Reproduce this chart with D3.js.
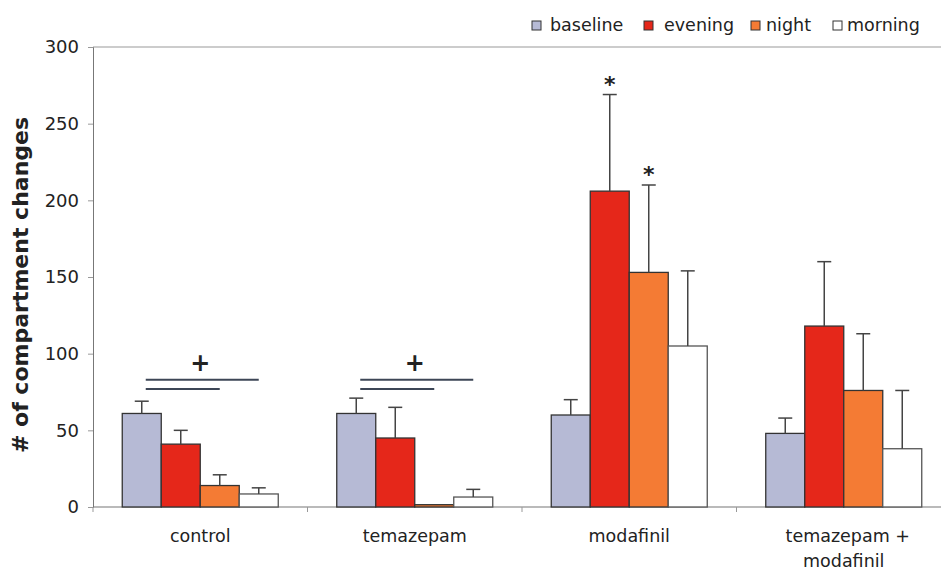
<!DOCTYPE html>
<html>
<head>
<meta charset="utf-8">
<script src="https://cdn.jsdelivr.net/npm/d3@7"></script>
<style>
  body { margin: 0; background: #fff; }
  text { font-family: "DejaVu Sans", Arial, sans-serif; fill: #222; }
</style>
</head>
<body>
<div id="chart"></div>
<script>
// data
const groups = ['control', 'temazepam', 'modafinil', 'temazepam + modafinil'];
const seriesNames = ['baseline', 'evening', 'night', 'morning'];
const baseline = [61, 61, 60, 48];
const evening = [41, 45, 206, 118];
const night = [14, 1.5, 153, 76];
const morning = [8.5, 6.5, 105, 38];
const baselineErr = [8, 10, 10, 10];
const eveningErr = [9, 20, 63, 42];
const nightErr = [7, 0, 57, 37];
const morningErr = [4, 5, 49, 38];
const yTicks = [0, 50, 100, 150, 200, 250, 300];
// significance marks
const brackets = [
  { group: 'control', to: 'morning', level: 83 },
  { group: 'control', to: 'night', level: 77 },
  { group: 'temazepam', to: 'morning', level: 83 },
  { group: 'temazepam', to: 'night', level: 77 }
];
const plusMarks = [{ group: 'control', level: 94 }, { group: 'temazepam', level: 94 }];
const stars = [{ group: 'modafinil', series: 'evening' }, { group: 'modafinil', series: 'night' }];

const values = { baseline, evening, night, morning };
const errors = { baseline: baselineErr, evening: eveningErr, night: nightErr, morning: morningErr };
const colors = { baseline: '#b6bad5', evening: '#e5271a', night: '#f47b34', morning: '#ffffff' };

const W = 941, H = 571;
const svg = d3.select('#chart').append('svg')
  .attr('width', W)
  .attr('height', H);

const plotLeft = 93, plotTop = 47, plotBottom = 507;
const x0 = d3.scaleBand().domain(groups).range([plotLeft, plotLeft + 4 * 214.5]).padding(0);
const x1 = d3.scaleBand().domain(seriesNames).range([0, x0.bandwidth()]).paddingInner(0).paddingOuter(0.75);
const y = d3.scaleLinear().domain([0, 300]).range([plotBottom, plotTop]);

// frame: top line
svg.append('line')
  .attr('x1', plotLeft).attr('x2', W)
  .attr('y1', plotTop).attr('y2', plotTop)
  .attr('stroke', '#999').attr('stroke-width', 1);

// y axis
const yAxis = svg.append('g')
  .attr('transform', `translate(${plotLeft},0)`)
  .call(d3.axisLeft(y).tickValues(yTicks).tickSize(5).tickPadding(9));
yAxis.select('.domain').attr('stroke', '#777');
yAxis.selectAll('.tick line').attr('stroke', '#999');
yAxis.selectAll('.tick text')
  .attr('font-size', 18)
  .attr('font-family', '"DejaVu Sans", Arial, sans-serif')
  .attr('fill', '#333');

// x axis line + group ticks
svg.append('line')
  .attr('x1', plotLeft).attr('x2', W)
  .attr('y1', plotBottom).attr('y2', plotBottom)
  .attr('stroke', '#777').attr('stroke-width', 1.2);
svg.selectAll('.gtick')
  .data(groups)
  .join('line')
  .attr('class', 'gtick')
  .attr('x1', d => x0(d)).attr('x2', d => x0(d))
  .attr('y1', plotBottom).attr('y2', plotBottom + 5)
  .attr('stroke', '#999');

// category labels
svg.selectAll('.glabel')
  .data(groups)
  .join('text')
  .attr('class', 'glabel')
  .attr('x', d => x0(d) + x0.bandwidth() / 2)
  .attr('y', 542)
  .attr('text-anchor', 'middle')
  .attr('font-size', 17.5)
  .each(function (d) {
    const t = d3.select(this);
    if (d === 'temazepam + modafinil') {
      t.append('tspan').attr('x', x0(d) + x0.bandwidth() / 2).attr('dx', 4).text('temazepam +');
      t.append('tspan').attr('x', x0(d) + x0.bandwidth() / 2).attr('dy', 25).text('modafinil');
    } else {
      t.text(d);
    }
  });

// y title
svg.append('text')
  .attr('transform', `translate(28,${(plotTop + plotBottom) / 2 + 8}) rotate(-90)`)
  .attr('text-anchor', 'middle')
  .attr('font-size', 22)
  .attr('font-weight', 'bold')
  .text('# of compartment changes');

// bars
const flat = [];
groups.forEach((g, gi) => {
  seriesNames.forEach(s => {
    flat.push({ group: g, series: s, value: values[s][gi], err: errors[s][gi] });
  });
});

const barG = svg.append('g');
barG.selectAll('rect')
  .data(flat)
  .join('rect')
  .attr('x', d => x0(d.group) + x1(d.series))
  .attr('y', d => y(d.value))
  .attr('width', x1.bandwidth())
  .attr('height', d => y(0) - y(d.value))
  .attr('fill', d => colors[d.series])
  .attr('stroke', d => d.series === 'morning' ? '#555' : '#333')
  .attr('stroke-width', 1.3);

// error bars (upper only)
const errG = svg.append('g').attr('stroke', '#444').attr('stroke-width', 1.5);
flat.filter(d => d.err > 0).forEach(d => {
  const cx = x0(d.group) + x1(d.series) + x1.bandwidth() / 2;
  errG.append('line')
    .attr('x1', cx).attr('x2', cx)
    .attr('y1', y(d.value)).attr('y2', y(d.value + d.err));
  errG.append('line')
    .attr('x1', cx - 7).attr('x2', cx + 7)
    .attr('y1', y(d.value + d.err)).attr('y2', y(d.value + d.err));
});

// significance brackets
const center = (g, s) => x0(g) + x1(s) + x1.bandwidth() / 2;
svg.selectAll('.bracket')
  .data(brackets)
  .join('line')
  .attr('class', 'bracket')
  .attr('x1', d => center(d.group, 'baseline') + 4)
  .attr('x2', d => center(d.group, d.to))
  .attr('y1', d => y(d.level)).attr('y2', d => y(d.level))
  .attr('stroke', '#3d4656')
  .attr('stroke-width', 2);

svg.selectAll('.plus')
  .data(plusMarks)
  .join('text')
  .attr('class', 'plus')
  .attr('x', d => (center(d.group, 'baseline') + center(d.group, 'morning')) / 2)
  .attr('y', d => y(d.level) + 8)
  .attr('text-anchor', 'middle')
  .attr('font-size', 24)
  .attr('font-weight', 'bold')
  .text('+');

svg.selectAll('.star')
  .data(stars)
  .join('text')
  .attr('class', 'star')
  .attr('x', d => center(d.group, d.series))
  .attr('y', d => {
    const gi = groups.indexOf(d.group);
    return y(values[d.series][gi] + errors[d.series][gi]) - 3;
  })
  .attr('text-anchor', 'middle')
  .attr('font-size', 22)
  .attr('font-weight', 'bold')
  .text('*');

// legend
const legendSq = [532, 644, 751, 833];
const legendTx = [550, 664, 766, 847];
const legend = svg.append('g');
seriesNames.forEach((s, i) => {
  legend.append('rect')
    .attr('x', legendSq[i]).attr('y', 21)
    .attr('width', 9).attr('height', 9)
    .attr('fill', colors[s])
    .attr('stroke', '#333').attr('stroke-width', 1);
  legend.append('text')
    .attr('x', legendTx[i]).attr('y', 31)
    .attr('font-size', 17.5)
    .text(s);
});
</script>
</body>
</html>
